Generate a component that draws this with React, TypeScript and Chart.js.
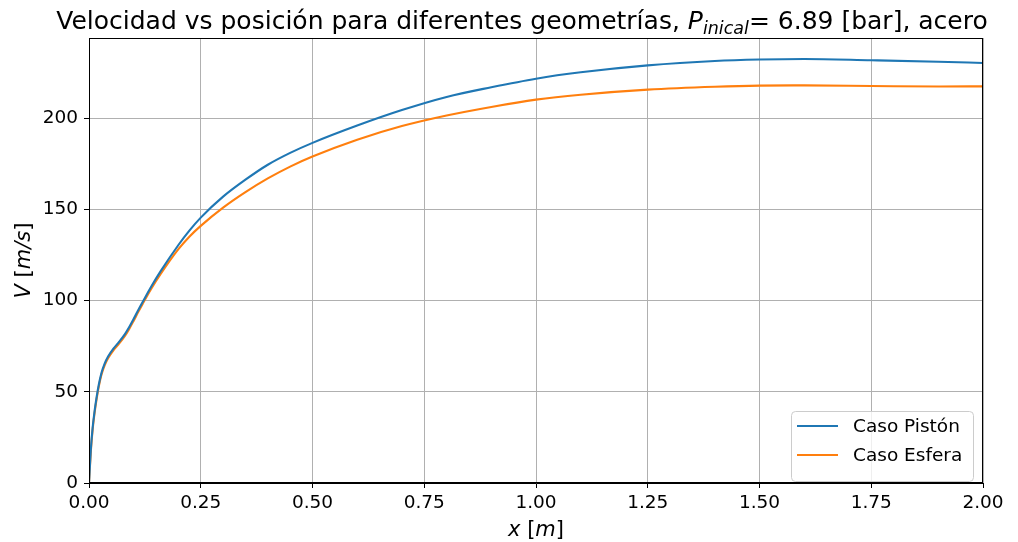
import React, { useEffect, useRef } from 'react';
import { Chart, registerables } from 'chart.js';

Chart.register(...registerables);

const xValues = [0, 0.004, 0.008, 0.012, 0.017, 0.022, 0.028, 0.035, 0.043, 0.055, 0.066, 0.08, 0.09, 0.1, 0.11, 0.12, 0.14, 0.16, 0.2, 0.225, 0.25, 0.3, 0.35, 0.4, 0.45, 0.5, 0.6, 0.7, 0.8, 0.9, 1.0, 1.1, 1.25, 1.4, 1.5, 1.6, 1.75, 1.9, 2.0];
const vPiston = [0, 18, 30, 38.5, 47, 54, 60.5, 65.5, 69.5, 73.8, 77, 81.5, 85.5, 90, 94.7, 99.2, 108, 116, 130.5, 138.5, 145.5, 157, 166.3, 174.5, 181, 186.5, 196, 204.5, 211.7, 217, 221.7, 225.2, 229, 231.4, 232.2, 232.5, 231.8, 231, 230.3];
const vEsfera = [0, 17, 29, 37.5, 46, 53, 59.5, 64.5, 68.5, 72.8, 76, 80.5, 84.5, 89, 93.7, 98.2, 106.8, 114.5, 128.2, 135.2, 141, 151, 159.5, 167, 173.5, 179, 188.2, 195.7, 201.5, 206.2, 210.2, 212.9, 215.7, 217.3, 217.9, 218, 217.7, 217.4, 217.5];
const seriesLabels = ['Caso Pistón', 'Caso Esfera'];
const seriesColors = ['#1f77b4', '#ff7f0e'];
const xTickValues = [0, 0.25, 0.5, 0.75, 1.0, 1.25, 1.5, 1.75, 2.0];
const yTickValues = [0, 50, 100, 150, 200];

const W = 1018;
const H = 542;
const FONT = '"DejaVu Sans", sans-serif';
const TICK_SIZE = 18.5;

const overlayPlugin = {
  id: 'overlay',
  afterDraw(chart: any) {
    const ctx = chart.ctx;
    const a = chart.chartArea;
    ctx.save();
    // spines
    ctx.strokeStyle = '#000';
    ctx.lineWidth = 1;
    ctx.strokeRect(Math.round(a.left) + 0.5, Math.round(a.top) + 0.5, Math.round(a.right - a.left) - 1, Math.round(a.bottom - a.top) - 1);

    // title with subscript
    const big = 25;
    const small = 17.5;
    const segs = [
      { t: 'Velocidad vs posición para diferentes geometrías, ', f: `${big}px ${FONT}`, dy: 0 },
      { t: 'P', f: `italic ${big}px ${FONT}`, dy: 0 },
      { t: 'inical', f: `italic ${small}px ${FONT}`, dy: 5 },
      { t: '= 6.89 [bar], acero', f: `${big}px ${FONT}`, dy: 0 },
    ];
    let total = 0;
    for (const s of segs) { ctx.font = s.f; total += ctx.measureText(s.t).width; }
    let x = (a.left + a.right) / 2 - 14 - total / 2;
    ctx.fillStyle = '#000';
    ctx.textBaseline = 'alphabetic';
    ctx.textAlign = 'left';
    for (const s of segs) {
      ctx.font = s.f;
      ctx.fillText(s.t, x, 29 + s.dy);
      x += ctx.measureText(s.t).width;
    }

    // axis labels
    const drawMixed = (parts: { t: string; it: boolean }[], size: number) => {
      let w = 0;
      for (const p of parts) { ctx.font = `${p.it ? 'italic ' : ''}${size}px ${FONT}`; w += ctx.measureText(p.t).width; }
      let px = -w / 2;
      for (const p of parts) {
        ctx.font = `${p.it ? 'italic ' : ''}${size}px ${FONT}`;
        ctx.fillText(p.t, px, 0);
        px += ctx.measureText(p.t).width;
      }
    };
    const labSize = 21;
    ctx.save();
    ctx.translate((a.left + a.right) / 2, 536);
    drawMixed([{ t: 'x', it: true }, { t: ' [', it: false }, { t: 'm', it: true }, { t: ']', it: false }], labSize);
    ctx.restore();
    ctx.save();
    ctx.translate(30, (a.top + a.bottom) / 2);
    ctx.rotate(-Math.PI / 2);
    drawMixed([{ t: 'V', it: true }, { t: ' [', it: false }, { t: 'm/s', it: true }, { t: ']', it: false }], labSize);
    ctx.restore();

    // legend
    const lx = 791, ly = 411, lw = 182, lh = 70;
    ctx.beginPath();
    ctx.roundRect(lx + 0.5, ly + 0.5, lw, lh, 4);
    ctx.fillStyle = 'rgba(255,255,255,0.8)';
    ctx.fill();
    ctx.strokeStyle = '#cccccc';
    ctx.lineWidth = 1;
    ctx.stroke();
    const rows = [426, 455];
    ctx.font = `${TICK_SIZE}px ${FONT}`;
    ctx.textBaseline = 'middle';
    for (let i = 0; i < 2; i++) {
      ctx.strokeStyle = seriesColors[i];
      ctx.lineWidth = 2.1;
      ctx.beginPath();
      ctx.moveTo(797, rows[i]);
      ctx.lineTo(838, rows[i]);
      ctx.stroke();
      ctx.fillStyle = '#000';
      ctx.fillText(seriesLabels[i], 853, rows[i] + 1);
    }
    ctx.restore();
  },
};

export default function App() {
  const ref = useRef<HTMLCanvasElement | null>(null);
  useEffect(() => {
    document.body.style.margin = '0';
    const canvas = ref.current!;
    const chart = new Chart(canvas, {
      type: 'line',
      data: {
        datasets: [
          {
            label: seriesLabels[0],
            data: xValues.map((x, i) => ({ x, y: vPiston[i] })),
            borderColor: seriesColors[0],
            backgroundColor: seriesColors[0],
            borderWidth: 2.1,
            pointRadius: 0,
            cubicInterpolationMode: 'monotone',
          },
          {
            label: seriesLabels[1],
            data: xValues.map((x, i) => ({ x, y: vEsfera[i] })),
            borderColor: seriesColors[1],
            backgroundColor: seriesColors[1],
            borderWidth: 2.1,
            pointRadius: 0,
            cubicInterpolationMode: 'monotone',
          },
        ],
      },
      options: {
        animation: false,
        responsive: false,
        devicePixelRatio: 1,
        layout: { padding: { left: 0, top: 38, right: 35, bottom: 0 } },
        plugins: { legend: { display: false }, title: { display: false }, tooltip: { enabled: false } },
        scales: {
          x: {
            type: 'linear',
            min: 0,
            max: 2,
            afterBuildTicks: (s: any) => { s.ticks = xTickValues.map((v) => ({ value: v })); },
            afterFit: (s: any) => { s.height = 59; },
            ticks: {
              callback: (v: any) => Number(v).toFixed(2),
              font: { family: '"DejaVu Sans"', size: TICK_SIZE },
              color: '#000',
              padding: 4,
              maxRotation: 0,
              autoSkip: false,
            },
            grid: { color: '#b0b0b0', lineWidth: 1, tickColor: '#000', tickLength: 5 },
            border: { display: true, color: '#000', width: 1 },
          },
          y: {
            type: 'linear',
            min: 0,
            max: 244,
            afterBuildTicks: (s: any) => { s.ticks = yTickValues.map((v) => ({ value: v })); },
            afterFit: (s: any) => { s.width = 89; },
            ticks: {
              font: { family: '"DejaVu Sans"', size: TICK_SIZE },
              color: '#000',
              padding: 6,
              autoSkip: false,
            },
            grid: { color: '#b0b0b0', lineWidth: 1, tickColor: '#000', tickLength: 5 },
            border: { display: true, color: '#000', width: 1 },
          },
        },
      },
      plugins: [overlayPlugin],
    } as any);
    return () => chart.destroy();
  }, []);
  return (
    <canvas ref={ref} width={W} height={H} style={{ display: 'block', width: W, height: H }} />
  );
}
